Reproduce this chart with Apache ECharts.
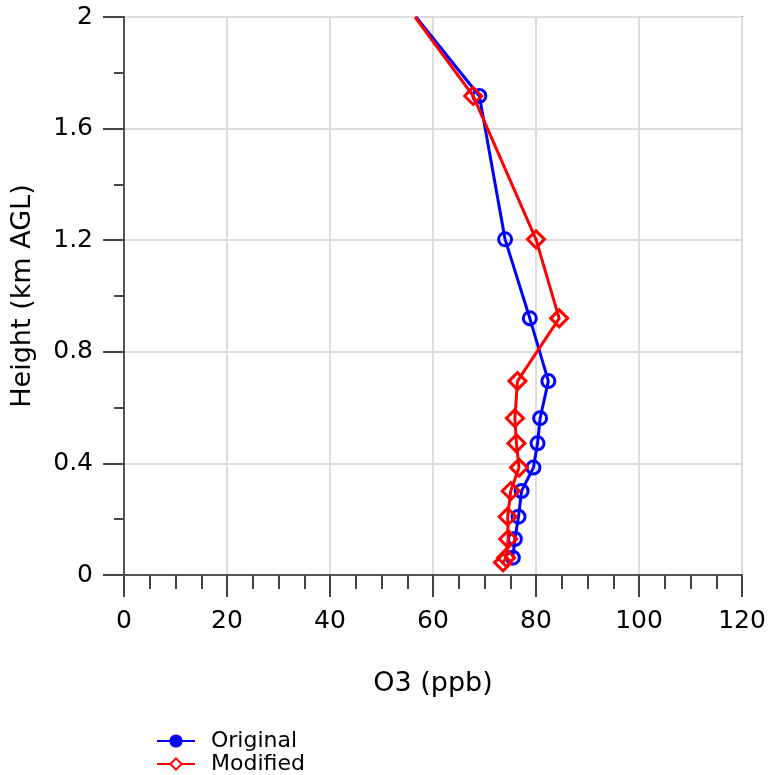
<!DOCTYPE html>
<html>
<head>
<meta charset="utf-8">
<script src="https://cdn.jsdelivr.net/npm/echarts@6/dist/echarts.min.js"></script>
<style>html,body{margin:0;padding:0;background:#fff}#c{width:773px;height:775px}</style>
</head>
<body>
<div id="c"></div>
<script>
// Heights (km AGL) of the profile levels
const heightLevels = [2.0, 1.717, 1.203, 0.920, 0.695, 0.562, 0.472, 0.385, 0.301, 0.209, 0.129, 0.062];
const originalO3  = [56.7, 69.0, 74.0, 78.8, 82.4, 80.8, 80.3, 79.5, 77.2, 76.6, 75.9, 75.5];
const modifiedHeights = [2.0, 1.717, 1.203, 0.920, 0.695, 0.562, 0.472, 0.385, 0.301, 0.209, 0.129, 0.062, 0.045];
const modifiedO3  = [56.5, 67.8, 80.0, 84.5, 76.4, 75.9, 76.2, 76.7, 75.1, 74.5, 74.6, 74.2, 73.6];
const xTicks = [0, 20, 40, 60, 80, 100, 120];
const yTicks = [0, 0.4, 0.8, 1.2, 1.6, 2];
const seriesNames = ['Original', 'Modified'];

const X_MAX = xTicks[xTicks.length - 1];
const Y_MAX = yTicks[yTicks.length - 1];

function build(xs, hs) {
  return xs.map((x, i) => {
    const item = { value: [x, hs[i]] };
    if (hs[i] >= Y_MAX) item.symbol = 'none';
    return item;
  });
}

const FONT = 'DejaVu Sans';
const chart = echarts.init(document.getElementById('c'), null, { renderer: 'canvas' });
chart.setOption({
  animation: false,
  backgroundColor: '#fff',
  grid: { left: 124, right: 31, top: 17, bottom: 200, show: true, borderColor: '#666', borderWidth: 2, backgroundColor: 'transparent' },
  legend: {
    orient: 'vertical',
    left: 151,
    top: 725,
    height: 60,
    itemWidth: 38,
    itemHeight: 14,
    itemGap: 1,
    textStyle: { fontFamily: FONT, fontSize: 22, color: '#000', lineHeight: 22, padding: [0, 0, 0, 11] },
    data: [
      { name: seriesNames[0], itemStyle: { color: '#0000ff', borderColor: '#0000ff' } },
      { name: seriesNames[1], itemStyle: { color: '#fff', borderColor: '#ff0000', borderWidth: 2 } }
    ]
  },
  xAxis: {
    type: 'value', min: 0, max: X_MAX, interval: 20,
    name: 'O3 (ppb)', nameLocation: 'middle', nameGap: 95,
    nameTextStyle: { fontFamily: FONT, fontSize: 27, color: '#000' },
    axisLine: { show: true, lineStyle: { color: '#555', width: 2 } },
    axisTick: { show: true, length: 22, lineStyle: { color: '#444', width: 2 } },
    minorTick: { show: true, splitNumber: 4, length: 14, lineStyle: { color: '#444', width: 2 } },
    axisLabel: { fontFamily: FONT, fontSize: 25, color: '#000', margin: 34 },
    splitLine: { show: true, lineStyle: { color: '#ddd', width: 2 } }
  },
  yAxis: {
    type: 'value', min: 0, max: Y_MAX, interval: 0.4,
    name: 'Height (km AGL)', nameLocation: 'middle', nameGap: 88,
    nameTextStyle: { fontFamily: FONT, fontSize: 27, color: '#000' },
    axisLine: { show: true, lineStyle: { color: '#555', width: 2 } },
    axisTick: { show: true, length: 21, lineStyle: { color: '#444', width: 2 } },
    minorTick: { show: true, splitNumber: 2, length: 10, lineStyle: { color: '#444', width: 2 } },
    axisLabel: { fontFamily: FONT, fontSize: 25, color: '#000', margin: 31 },
    splitLine: { show: true, lineStyle: { color: '#ddd', width: 2 } }
  },
  series: [
    {
      name: seriesNames[0], type: 'line', data: build(originalO3, heightLevels),
      symbol: 'circle', symbolSize: 13,
      lineStyle: { color: '#0000ff', width: 3 },
      itemStyle: { color: 'rgba(0,0,0,0)', borderColor: '#0000ff', borderWidth: 3 },
      z: 2
    },
    {
      name: seriesNames[1], type: 'line', data: build(modifiedO3, modifiedHeights),
      symbol: 'diamond', symbolSize: 17,
      lineStyle: { color: '#ff0000', width: 3 },
      itemStyle: { color: 'rgba(0,0,0,0)', borderColor: '#ff0000', borderWidth: 3 },
      z: 3
    }
  ]
});
</script>
</body>
</html>
